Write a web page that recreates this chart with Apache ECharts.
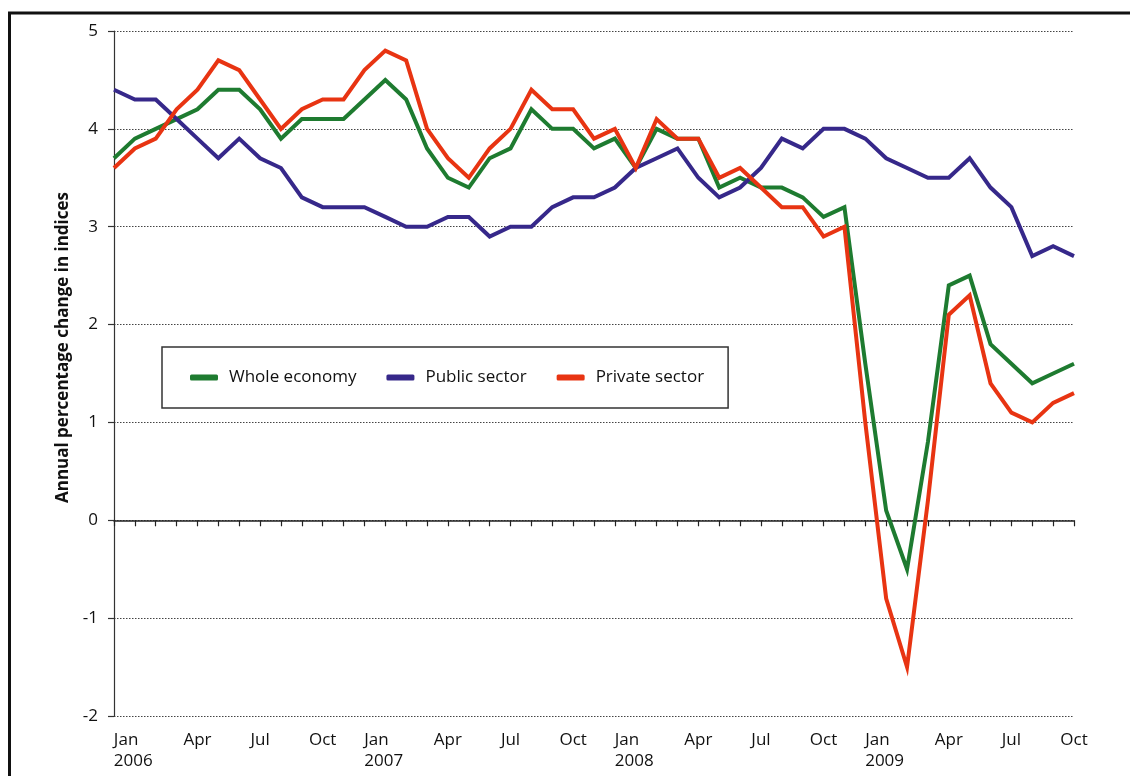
<!DOCTYPE html>
<html>
<head>
<meta charset="utf-8">
<script src="https://cdn.jsdelivr.net/npm/echarts@6/dist/echarts.min.js"></script>
<style>
html, body { margin: 0; padding: 0; background: #fff; }
#chart { width: 1130px; height: 776px; }
</style>
</head>
<body>
<div id="chart"></div>
<script>
// months, Dec 2005 .. Oct 2009
var months = [
    'Dec 2005',
    'Jan 2006', 'Feb 2006', 'Mar 2006', 'Apr 2006', 'May 2006', 'Jun 2006',
    'Jul 2006', 'Aug 2006', 'Sep 2006', 'Oct 2006', 'Nov 2006', 'Dec 2006',
    'Jan 2007', 'Feb 2007', 'Mar 2007', 'Apr 2007', 'May 2007', 'Jun 2007',
    'Jul 2007', 'Aug 2007', 'Sep 2007', 'Oct 2007', 'Nov 2007', 'Dec 2007',
    'Jan 2008', 'Feb 2008', 'Mar 2008', 'Apr 2008', 'May 2008', 'Jun 2008',
    'Jul 2008', 'Aug 2008', 'Sep 2008', 'Oct 2008', 'Nov 2008', 'Dec 2008',
    'Jan 2009', 'Feb 2009', 'Mar 2009', 'Apr 2009', 'May 2009', 'Jun 2009',
    'Jul 2009', 'Aug 2009', 'Sep 2009', 'Oct 2009'
];
var shownMonths = ['Jan', 'Apr', 'Jul', 'Oct'];

var wholeEconomy = [
    3.7,
    3.9, 4.0, 4.1, 4.2, 4.4, 4.4, 4.2, 3.9, 4.1, 4.1, 4.1, 4.3,
    4.5, 4.3, 3.8, 3.5, 3.4, 3.7, 3.8, 4.2, 4.0, 4.0, 3.8, 3.9,
    3.6, 4.0, 3.9, 3.9, 3.4, 3.5, 3.4, 3.4, 3.3, 3.1, 3.2, 1.6,
    0.1, -0.5, 0.8, 2.4, 2.5, 1.8, 1.6, 1.4, 1.5, 1.6
];
var publicSector = [
    4.4,
    4.3, 4.3, 4.1, 3.9, 3.7, 3.9, 3.7, 3.6, 3.3, 3.2, 3.2, 3.2,
    3.1, 3.0, 3.0, 3.1, 3.1, 2.9, 3.0, 3.0, 3.2, 3.3, 3.3, 3.4,
    3.6, 3.7, 3.8, 3.5, 3.3, 3.4, 3.6, 3.9, 3.8, 4.0, 4.0, 3.9,
    3.7, 3.6, 3.5, 3.5, 3.7, 3.4, 3.2, 2.7, 2.8, 2.7
];
var privateSector = [
    3.6,
    3.8, 3.9, 4.2, 4.4, 4.7, 4.6, 4.3, 4.0, 4.2, 4.3, 4.3, 4.6,
    4.8, 4.7, 4.0, 3.7, 3.5, 3.8, 4.0, 4.4, 4.2, 4.2, 3.9, 4.0,
    3.6, 4.1, 3.9, 3.9, 3.5, 3.6, 3.4, 3.2, 3.2, 2.9, 3.0, 1.0,
    -0.8, -1.5, 0.2, 2.1, 2.3, 1.4, 1.1, 1.0, 1.2, 1.3
];

var font = '"Open Sans", "Noto Sans", sans-serif';
var chart = echarts.init(document.getElementById('chart'));

chart.setOption({
    animation: false,
    backgroundColor: '#fff',
    textStyle: { fontFamily: font },
    // outer frame
    graphic: [{
        type: 'rect',
        shape: { x: 9.5, y: 13, width: 1300, height: 900 },
        style: { fill: 'none', stroke: '#111', lineWidth: 3 },
        silent: true
    }],
    grid: { left: 114, right: 56, top: 31, bottom: 60 },
    legend: {
        left: 162,
        top: 347,
        orient: 'horizontal',
        padding: [20, 24, 20, 28],
        borderColor: '#333',
        borderWidth: 1.5,
        itemGap: 30,
        itemWidth: 28,
        itemHeight: 6,
        icon: 'roundRect',
        textStyle: { fontSize: 17, color: '#111', lineHeight: 21, padding: [0, 0, 0, 6] },
        data: ['Whole economy', 'Public sector', 'Private sector']
    },
    xAxis: [{
        // axis line at zero with monthly ticks
        type: 'category',
        data: months,
        boundaryGap: false,
        axisLine: { onZero: true, lineStyle: { color: '#222', width: 1.5 } },
        axisTick: { show: true, interval: 0, length: 6, lineStyle: { color: '#222', width: 1.2 } },
        axisLabel: { show: false },
        splitLine: { show: false }
    }, {
        // labels along the bottom
        type: 'category',
        data: months,
        boundaryGap: false,
        position: 'bottom',
        axisLine: { show: false, onZero: false },
        axisTick: { show: false },
        splitLine: { show: false },
        axisLabel: {
            interval: function (idx, val) {
                return shownMonths.indexOf(val.split(' ')[0]) >= 0;
            },
            margin: 14,
            fontSize: 17,
            color: '#111',
            lineHeight: 21,
            formatter: function (val) {
                var p = val.split(' ');
                if (p[0] === 'Jan') return '{m|' + p[0] + '}\n{m|' + p[1] + '}';
                return p[0];
            },
            rich: {
                m: { width: 42, align: 'left', fontSize: 17, lineHeight: 21, color: '#111' }
            }
        }
    }],
    yAxis: {
        type: 'value',
        min: -2,
        max: 5,
        interval: 1,
        name: 'Annual percentage change in indices',
        nameLocation: 'middle',
        nameGap: 37,
        nameTextStyle: { fontSize: 17, fontWeight: 'bold', color: '#111', padding: [0, 0, 0, 52] },
        axisLine: { show: true, lineStyle: { color: '#333', width: 1.2 } },
        axisTick: { show: true, length: 6, lineStyle: { color: '#333', width: 1.2 } },
        axisLabel: { fontSize: 17, color: '#111', margin: 16 },
        splitLine: { show: true, lineStyle: { color: '#444', type: [1.5, 1.5], width: 1 } }
    },
    series: [{
        name: 'Whole economy',
        type: 'line',
        data: wholeEconomy,
        symbol: 'none',
        color: '#1e7b30',
        lineStyle: { width: 4, color: '#1e7b30', join: 'miter' }
    }, {
        name: 'Public sector',
        type: 'line',
        data: publicSector,
        symbol: 'none',
        color: '#36288a',
        lineStyle: { width: 4, color: '#36288a', join: 'miter' }
    }, {
        name: 'Private sector',
        type: 'line',
        data: privateSector,
        symbol: 'none',
        color: '#e83412',
        lineStyle: { width: 4, color: '#e83412', join: 'miter' }
    }]
});
</script>
</body>
</html>
